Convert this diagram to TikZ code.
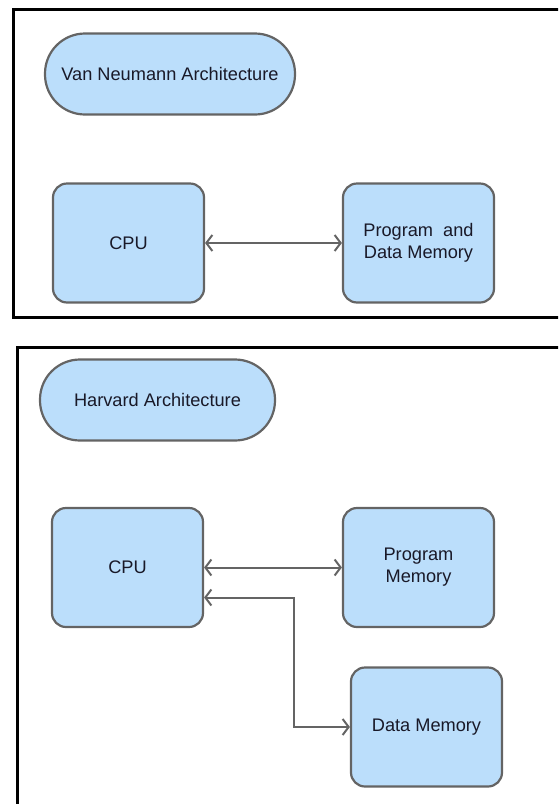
\documentclass[tikz,border=0pt]{standalone}
\usepackage{fontspec}
\setmainfont{Liberation Sans}
\usepackage{tikz}
\usetikzlibrary{arrows.meta}

\definecolor{boxblue}{RGB}{187,222,251}
\definecolor{edgegray}{RGB}{100,100,100}
\definecolor{inkgray}{RGB}{25,25,40}

\begin{document}
\begin{tikzpicture}[x=1pt,y=-1pt,
    box/.style={draw=edgegray, line width=2.2pt, fill=boxblue, rounded corners=14pt,
      minimum width=151pt, minimum height=119pt, align=center, text=inkgray,
      font=\fontsize{18.2}{22}\selectfont},
    pill/.style={draw=edgegray, line width=2.2pt, fill=boxblue, rounded corners=40pt,
      minimum height=81pt, text=inkgray, font=\fontsize{18.2}{22}\selectfont},
    link/.style={draw=edgegray, line width=2pt, {Straight Barb[length=6pt,width=16pt]}-{Straight Barb[length=6pt,width=16pt]}},
    frame/.style={line width=3pt}]
      \useasboundingbox (0,0) rectangle (558,804);
      \clip (0,0) rectangle (558,804);

      % Van Neumann
      \draw [frame] (570,9) -- (13,9) -- (13,317) -- (570,317);
      \node [pill, minimum width=250pt] (vnTitle) at (170,74) {Van Neumann Architecture};
      \node [box] (vnCpu) at (128.5,243) {CPU};
      \node [box] (vnMem) at (418.5,243) {Program\ \ and\\Data Memory};
      \draw [link] (vnCpu.east) -- (vnMem.west);

      % Harvard
      \draw [frame] (570,347) -- (17,347) -- (17,820);
      \node [pill, minimum width=235pt] (hvTitle) at (157.5,400) {Harvard Architecture};
      \node [box] (hvCpu) at (127.5,567.5) {CPU};
      \node [box] (hvProg) at (418.5,567.5) {Program\\Memory};
      \node [box] (hvData) at (426.5,727) {Data Memory};
      \draw [link] (hvCpu.east) -- (hvProg.west);
      \draw [link] ([yshift=-30pt]hvCpu.east) -| ([xshift=-56pt]hvData.west) -- (hvData.west);
\end{tikzpicture}
\end{document}
